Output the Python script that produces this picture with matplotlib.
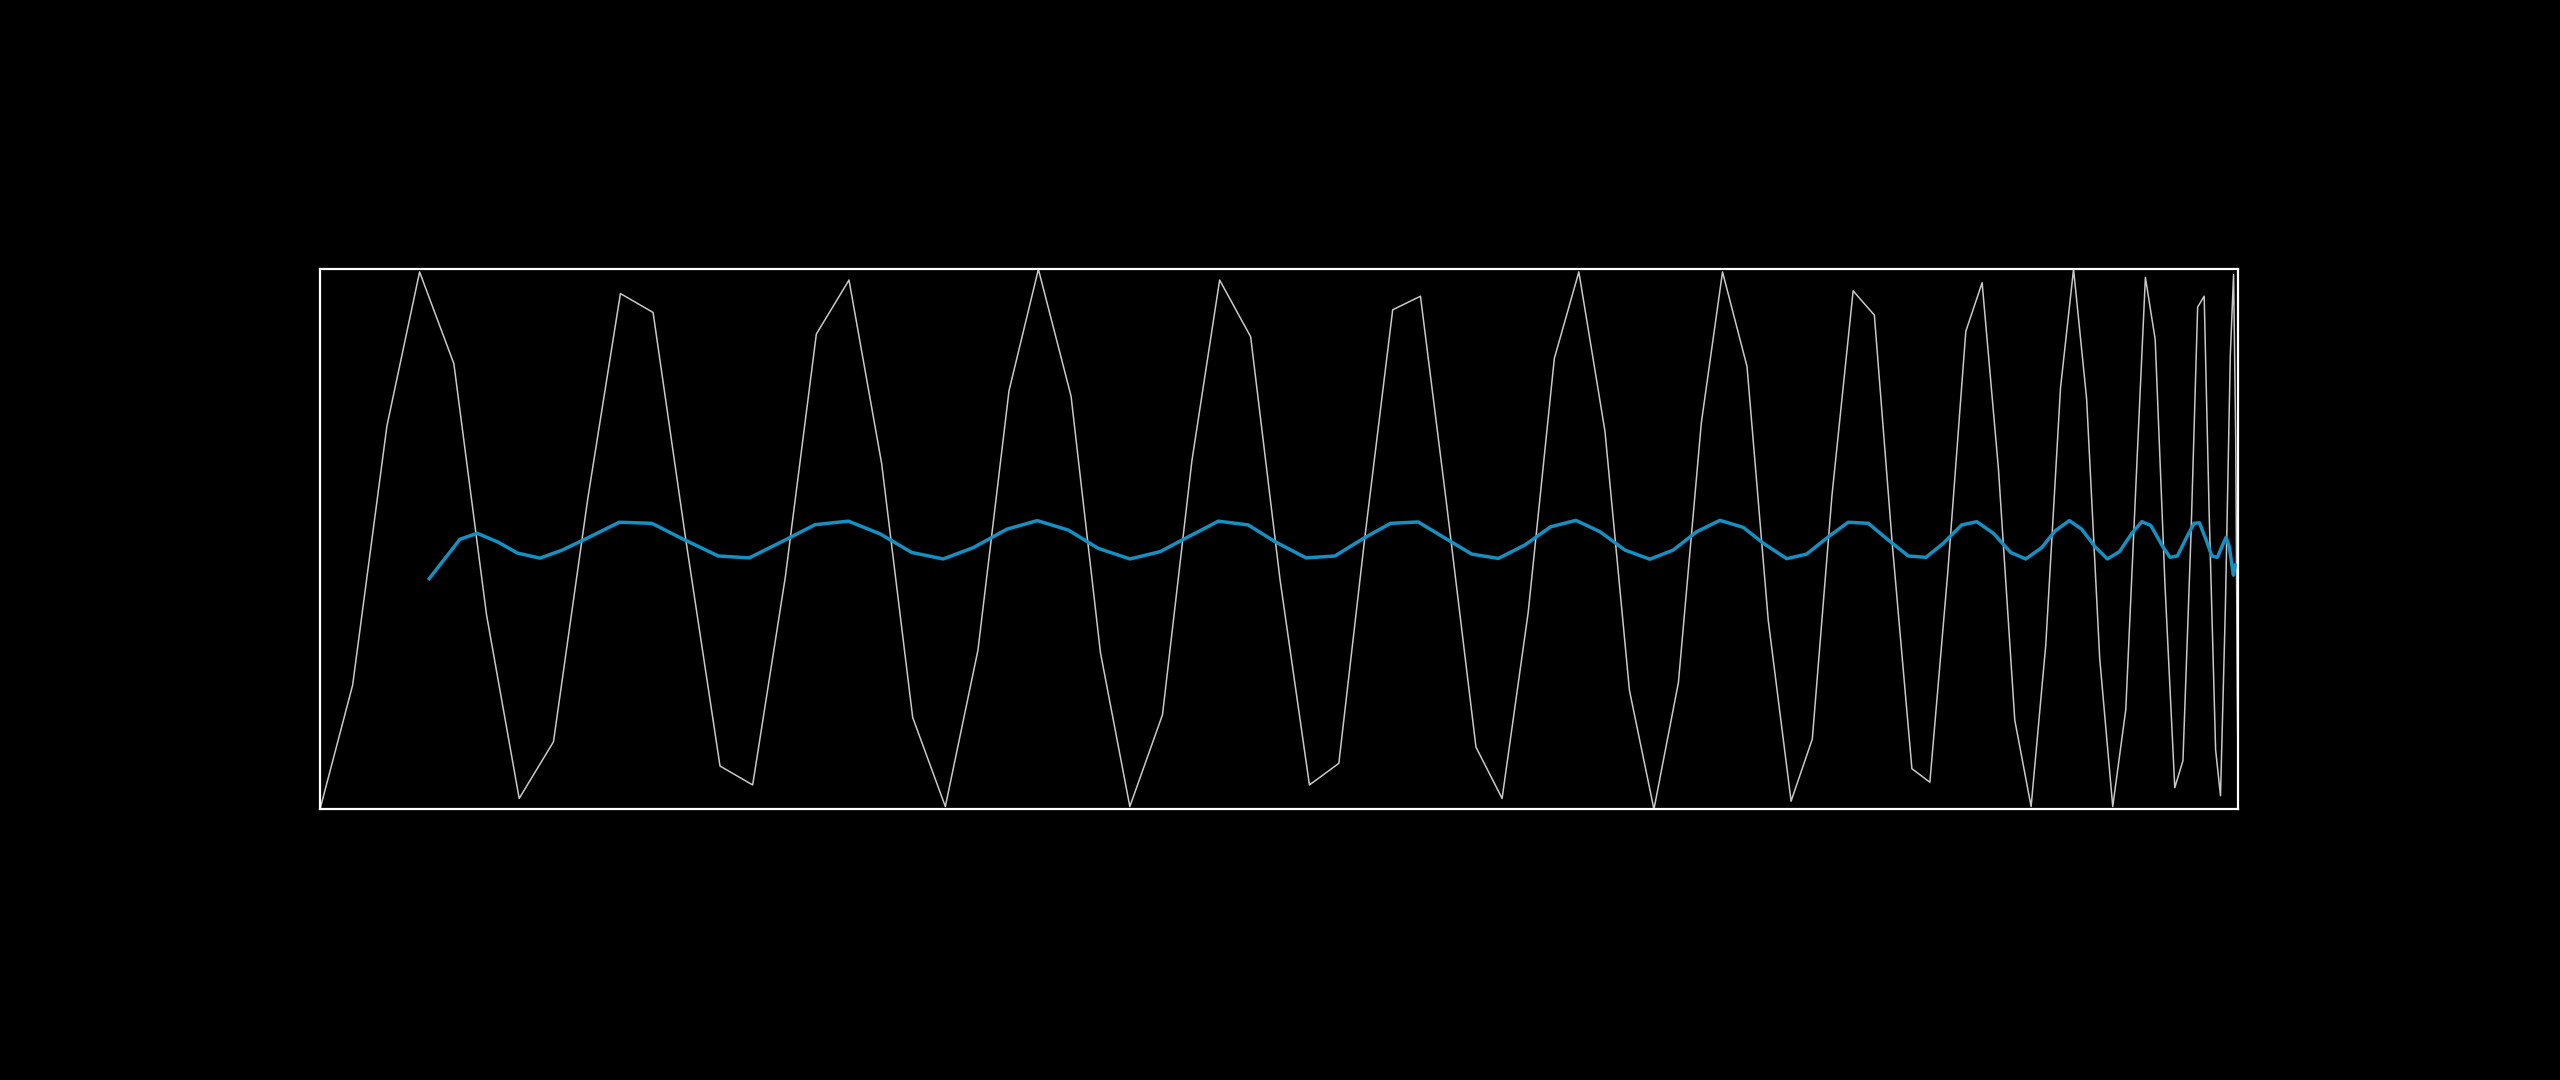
import matplotlib
matplotlib.use("Agg")
import matplotlib.pyplot as plt

# signal samples (sample spacing shrinks toward the right)
t_signal = [
    0.0, 2.0, 4.1, 6.1, 8.2, 10.2, 12.2, 14.3, 16.4, 18.4,
    20.4, 22.4, 24.5, 26.5, 28.5, 30.4, 32.4, 34.4, 36.3, 38.3,
    40.3, 42.2, 44.0, 46.0, 47.8, 49.6, 51.6, 53.4, 55.1, 57.0,
    58.8, 60.6, 62.4, 64.0, 65.7, 67.4, 69.0, 70.8, 72.4, 74.0,
    75.6, 77.1, 78.7, 80.2, 81.7, 83.2, 84.6, 85.9, 87.4, 88.7,
    90.1, 91.4, 92.6, 93.9, 95.2, 96.3, 97.5, 98.6, 99.7, 100.8,
    101.8, 102.8, 103.8, 104.8, 105.7, 106.6, 107.4, 108.2, 109.0, 109.8,
    110.6, 111.3, 111.8, 112.4, 113.0, 113.6, 114.1, 114.6, 115.0, 115.4,
    115.7, 116.1, 116.4, 116.7, 117.0, 117.2, 117.33, 117.43, 117.5,
]
signal = [
    -1.00, -0.54, 0.42, 0.99, 0.65, -0.28, -0.96, -0.75, 0.15, 0.91,
    0.84, -0.00, -0.84, -0.91, -0.14, 0.76, 0.96, 0.28, -0.66, -0.99,
    -0.41, 0.55, 1.00, 0.53, -0.42, -0.99, -0.65, 0.29, 0.96, 0.75,
    -0.15, -0.91, -0.83, 0.01, 0.85, 0.90, 0.13, -0.77, -0.96, -0.27,
    0.67, 0.99, 0.40, -0.56, -1.00, -0.53, 0.43, 0.99, 0.64, -0.30,
    -0.97, -0.74, 0.16, 0.92, 0.83, -0.02, -0.85, -0.90, -0.12, 0.77,
    0.95, 0.26, -0.67, -0.99, -0.39, 0.56, 1.00, 0.52, -0.44, -0.99,
    -0.63, 0.31, 0.97, 0.74, -0.17, -0.92, -0.82, 0.03, 0.86, 0.90,
    0.11, -0.78, -0.95, -0.25, 0.68, 0.98, 0.38, -0.57, -1.00,
]

# smoothed curve
t_smooth = [
    6.69, 8.57, 9.63, 10.92, 12.08, 13.47, 14.84, 16.33, 18.33, 20.32,
    22.25, 24.39, 26.29, 28.58, 30.32, 32.36, 34.30, 36.24, 38.17, 40.01,
    42.06, 43.93, 45.83, 47.67, 49.61, 51.45, 53.18, 55.02, 56.85, 58.49,
    60.39, 62.16, 63.90, 65.57, 67.26, 69.10, 70.54, 72.17, 73.80, 75.37,
    76.92, 78.39, 79.92, 81.45, 82.88, 84.32, 85.74, 87.17, 88.40, 89.83,
    91.05, 92.38, 93.60, 94.83, 96.05, 97.28, 98.36, 99.42, 100.55, 101.47,
    102.49, 103.55, 104.47, 105.45, 106.27, 107.14, 107.90, 108.72, 109.47, 110.21,
    110.97, 111.58, 112.13, 112.87, 113.31, 113.76, 114.34, 114.78, 115.11, 115.52,
    115.87, 116.21, 116.48, 116.74, 116.94, 117.19, 117.31,
]
smooth = [
    -0.146, 0.000, 0.022, -0.011, -0.051, -0.070, -0.040, 0.003, 0.063, 0.059,
    0.000, -0.062, -0.069, 0.000, 0.054, 0.067, 0.020, -0.049, -0.073, -0.031,
    0.037, 0.069, 0.034, -0.034, -0.073, -0.046, 0.009, 0.067, 0.053, -0.009,
    -0.069, -0.062, 0.003, 0.059, 0.064, -0.003, -0.055, -0.071, -0.021, 0.046,
    0.070, 0.028, -0.040, -0.074, -0.040, 0.028, 0.070, 0.044, -0.015, -0.072,
    -0.055, 0.009, 0.063, 0.059, -0.003, -0.062, -0.067, -0.015, 0.053, 0.065,
    0.022, -0.049, -0.073, -0.031, 0.031, 0.069, 0.037, -0.028, -0.073, -0.046,
    0.022, 0.065, 0.051, -0.028, -0.067, -0.062, 0.009, 0.059, 0.061, -0.003,
    -0.062, -0.067, -0.028, 0.007, -0.028, -0.133, -0.096,
]

fig = plt.figure(figsize=(25.6, 10.8), dpi=100, facecolor='black')
ax = fig.add_axes([0.125, 0.2507, 0.7494, 0.5])
ax.set_facecolor('black')

ax.plot(t_signal, signal, color='#c8c8c8', linewidth=1.1)
ax.plot(t_smooth, smooth, color='#1590c2', linewidth=2.5)

ax.set_xlim(min(t_signal), max(t_signal))
ax.set_ylim(-1.0, 1.0)
ax.set_xticks([])
ax.set_yticks([])
for side in ax.spines.values():
    side.set_color('white')
    side.set_linewidth(1.6)

fig.savefig('out.png', dpi=100, facecolor='black')
